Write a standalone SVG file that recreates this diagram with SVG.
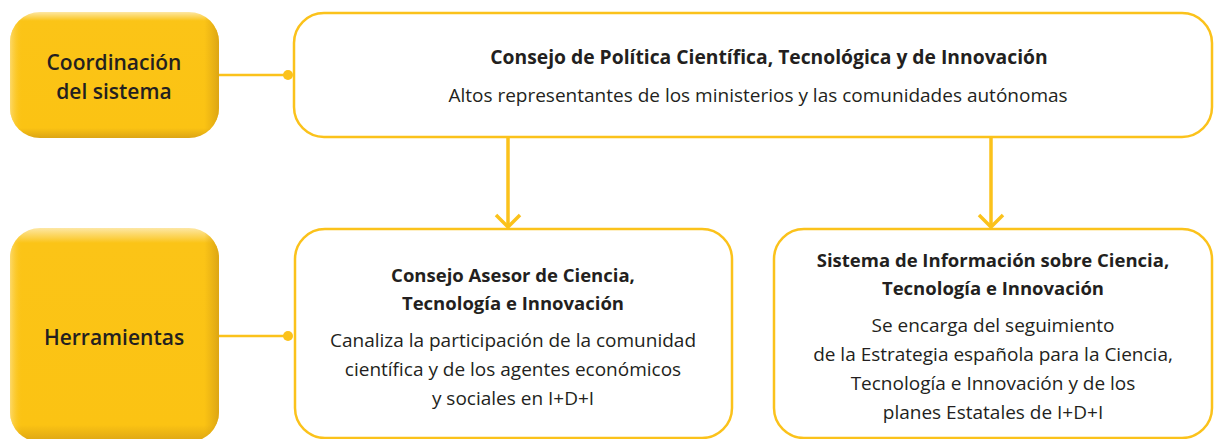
<svg xmlns="http://www.w3.org/2000/svg" width="1214" height="439" viewBox="0 0 1214 439">
<style>
.box{fill:#fff;stroke:#FBC21B;stroke-width:2.5}
.conn{stroke:#FBC21B;stroke-width:2.5;fill:none}
.arr{stroke:#FBC21B;stroke-width:3.5;fill:none}
.dot{fill:#FBC21B}
text{font-family:"Open Sans","Liberation Sans",sans-serif;fill:#231F20;text-anchor:middle}
.lbl{font-size:21px;font-weight:600}
.b{font-size:18.5px;font-weight:700}
.bt{font-size:19.3px;font-weight:700}
.n{font-size:19px}
</style>
<defs>
<linearGradient id="gv" x1="0" y1="0" x2="0" y2="1">
<stop offset="0" stop-color="#FDE7A4"/>
<stop offset="0.07" stop-color="#FBC417"/>
<stop offset="0.92" stop-color="#FBC313"/>
<stop offset="1" stop-color="#DCA514"/>
</linearGradient>
<linearGradient id="gh" x1="0" y1="0" x2="1" y2="0">
<stop offset="0" stop-color="#FDE7A4" stop-opacity="0.6"/>
<stop offset="0.06" stop-color="#FBC313" stop-opacity="0"/>
<stop offset="0.93" stop-color="#DCA514" stop-opacity="0"/>
<stop offset="1" stop-color="#D9A214" stop-opacity="0.9"/>
</linearGradient>
</defs>
<g id="coordinacion">
<rect x="10" y="12" width="209" height="126" rx="30" fill="url(#gv)"/>
<rect x="10" y="12" width="209" height="126" rx="30" fill="url(#gh)"/>
<text class="lbl" x="114" y="70">Coordinación</text>
<text class="lbl" x="114" y="99">del sistema</text>
</g>
<g id="herramientas">
<rect x="10" y="228" width="209" height="214" rx="30" fill="url(#gv)"/>
<rect x="10" y="228" width="209" height="214" rx="30" fill="url(#gh)"/>
<text class="lbl" x="114" y="345">Herramientas</text>
</g>
<g id="consejo-politica">
<rect class="box" x="294" y="13" width="918" height="124" rx="30"/>
<text class="bt" x="769" y="64">Consejo de Política Científica, Tecnológica y de Innovación</text>
<text class="n" x="758" y="102">Altos representantes de los ministerios y las comunidades autónomas</text>
</g>
<g id="consejo-asesor">
<rect class="box" x="295" y="229" width="437" height="209" rx="30"/>
<text class="b" x="513" y="282">Consejo Asesor de Ciencia,</text>
<text class="b" x="513" y="310">Tecnología e Innovación</text>
<text class="n" x="513" y="347">Canaliza la participación de la comunidad</text>
<text class="n" x="513" y="376">científica y de los agentes económicos</text>
<text class="n" x="513" y="405">y sociales en I+D+I</text>
</g>
<g id="sistema-informacion">
<rect class="box" x="774" y="229" width="438" height="209" rx="30"/>
<text class="b" x="993" y="267">Sistema de Información sobre Ciencia,</text>
<text class="b" x="993" y="295">Tecnología e Innovación</text>
<text class="n" x="993" y="332">Se encarga del seguimiento</text>
<text class="n" x="993" y="361">de la Estrategia española para la Ciencia,</text>
<text class="n" x="993" y="390">Tecnología e Innovación y de los</text>
<text class="n" x="993" y="419">planes Estatales de I+D+I</text>
</g>
<g id="connectors">
<line class="conn" x1="219" y1="75" x2="288" y2="75"/>
<circle class="dot" cx="288" cy="75" r="5"/>
<line class="conn" x1="219" y1="336" x2="288" y2="336"/>
<circle class="dot" cx="288" cy="336" r="5"/>
<line class="arr" x1="508" y1="137" x2="508" y2="226"/>
<polyline class="arr" points="496,215 508,227 520,215"/>
<line class="arr" x1="991" y1="137" x2="991" y2="226"/>
<polyline class="arr" points="979,215 991,227 1003,215"/>
</g>
</svg>
